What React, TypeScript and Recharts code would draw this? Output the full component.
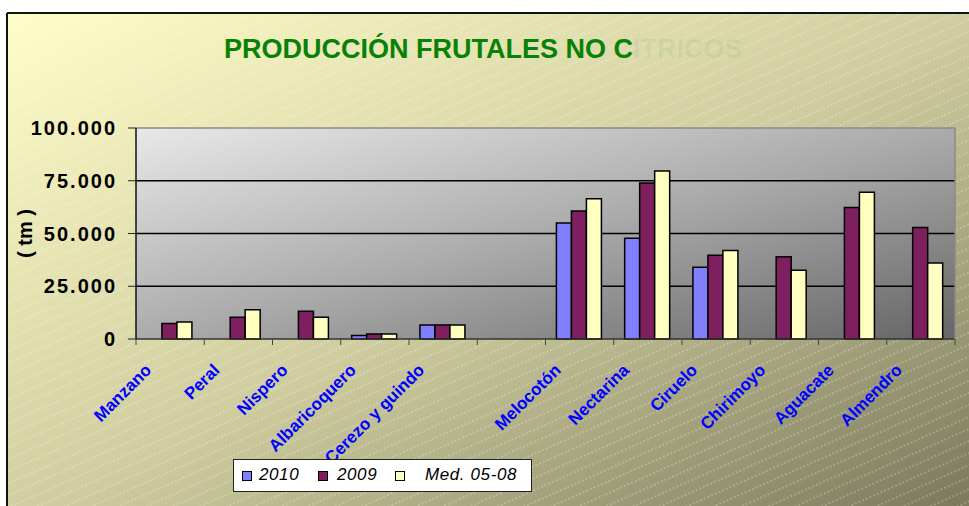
import React from "react";
import {
  BarChart,
  Bar,
  XAxis,
  YAxis,
  CartesianGrid,
  ReferenceLine,
} from "recharts";

const categories = [
  "Manzano",
  "Peral",
  "Nispero",
  "Albaricoquero",
  "Cerezo y guindo",
  "",
  "Melocotón",
  "Nectarina",
  "Ciruelo",
  "Chirimoyo",
  "Aguacate",
  "Almendro",
];
const v2010 = [null, null, null, 1600, 6600, null, 55000, 47700, 34000, null, null, null];
const v2009 = [7400, 10300, 13100, 2400, 6600, null, 60700, 73900, 39700, 39000, 62300, 52800];
const vMed = [8000, 13900, 10300, 2400, 6600, null, 66500, 79600, 42000, 32600, 69500, 36000];
const yTicks = [0, 25000, 50000, 75000, 100000];

const seriesNames = ["2010", "2009", "Med. 05-08"];
const seriesColors = ["#8080ff", "#7f1f5f", "#ffffc0"];

const data = categories.map((name, i) => ({
  name,
  y2010: v2010[i],
  y2009: v2009[i],
  med: vMed[i],
}));

const FONT = '"Liberation Sans", Arial, sans-serif';

const fmt = (v: number) => String(v).replace(/\B(?=(\d{3})+(?!\d))/g, ".");

const YTick = ({ x, y, payload }: any) => (
  <text
    x={x}
    y={y}
    dy="0.36em"
    textAnchor="end"
    fill="#000"
    fontFamily={FONT}
    fontWeight={700}
    fontSize={20}
    letterSpacing={2}
  >
    {fmt(payload.value)}
  </text>
);

const XTick = ({ x, y, payload, index }: any) => {
  const half = payload?.offset ?? 34;
  const isLast = index === categories.length - 1;
  const ax = x - 22;
  const ay = y + 28;
  return (
    <g>
      <line x1={x - half} y1={y} x2={x - half} y2={y + 6} stroke="#444" />
      {isLast && <line x1={x + half} y1={y} x2={x + half} y2={y + 6} stroke="#444" />}
      <text
        x={ax}
        y={ay}
        dy="0.35em"
        transform={`rotate(-45, ${ax}, ${ay})`}
        textAnchor="end"
        fill="#0000ff"
        fontFamily={FONT}
        fontWeight={700}
        fontSize={17}
      >
        {payload.value}
      </text>
    </g>
  );
};

const AxisTitle = ({ viewBox }: any) => {
  const cx = viewBox.x + 27;
  const cy = viewBox.y + viewBox.height / 2;
  return (
    <text
      x={cx}
      y={cy}
      transform={`rotate(-90, ${cx}, ${cy})`}
      textAnchor="middle"
      dominantBaseline="middle"
      fontFamily={FONT}
      fontWeight={700}
      fontSize={20}
      fill="#000"
    >
      ( tm )
    </text>
  );
};

const legendPos = [
  { sw: 8, tx: 25 },
  { sw: 84, tx: 103 },
  { sw: 161, tx: 191 },
];

export default function App() {
  return (
    <div style={{ position: "absolute", left: 0, top: 0, width: 969, height: 506, overflow: "hidden" }}>
      <svg width={969} height={506} style={{ position: "absolute", left: 0, top: 0 }}>
        <defs>
          <linearGradient id="outerGrad" x1="0" y1="0" x2="1" y2="1">
            <stop offset="0" stopColor="#fffdc8" />
            <stop offset="0.5" stopColor="#cfcd9f" />
            <stop offset="1" stopColor="#747357" />
          </linearGradient>
          <linearGradient id="plotGrad" x1="0" y1="0" x2="1" y2="1">
            <stop offset="0" stopColor="#e8e8e8" />
            <stop offset="0.5" stopColor="#ababab" />
            <stop offset="1" stopColor="#666666" />
          </linearGradient>
          <pattern id="stripes" width="8" height="11" patternUnits="userSpaceOnUse" patternTransform="rotate(-24)">
            <line x1="0" y1="5" x2="8" y2="5" stroke="#ffffff" strokeWidth="1" strokeDasharray="2 2" strokeOpacity="0.45" />
          </pattern>
        </defs>
        <rect x={7} y={13} width={980} height={520} fill="url(#outerGrad)" />
        <rect x={7} y={13} width={980} height={520} fill="url(#stripes)" />
        <line x1={7} y1={13} x2={969} y2={13} stroke="#111" strokeWidth={2} />
        <line x1={7} y1={13} x2={7} y2={506} stroke="#111" strokeWidth={2} />
        <text x={224} y={58} fontFamily={FONT} fontWeight={700} fontSize={27} fill="#078207">
          PRODUCCIÓN FRUTALES NO C
          <tspan fillOpacity={0.07}>ÍTRICOS</tspan>
        </text>
      </svg>

      <div style={{ position: "absolute", left: 0, top: 0 }}>
        <BarChart
          width={969}
          height={506}
          data={data}
          margin={{ top: 128, right: 0, bottom: 0, left: 0 }}
          barCategoryGap="16%"
          barGap={0}
        >
          <CartesianGrid
            vertical={false}
            stroke="#000"
            strokeWidth={1.3}
            fill="url(#plotGrad)"
            fillOpacity={1}
            horizontalValues={[25000, 50000, 75000]}
          />
          <XAxis
            dataKey="name"
            height={167}
            interval={0}
            tickLine={false}
            tickSize={0}
            tickMargin={0}
            axisLine={{ stroke: "#333", strokeWidth: 1.5 }}
            tick={<XTick />}
          />
          <YAxis
            width={136}
            domain={[0, 100000]}
            ticks={yTicks}
            interval={0}
            tickSize={8}
            tickMargin={11}
            tickLine={{ stroke: "#222" }}
            axisLine={{ stroke: "#111", strokeWidth: 1.5 }}
            tick={<YTick />}
            label={{ content: <AxisTitle /> }}
          />
          <YAxis
            yAxisId="r"
            orientation="right"
            width={14}
            tick={false}
            tickLine={false}
            axisLine={{ stroke: "#8a8a8a", strokeWidth: 1.5 }}
          />
          <ReferenceLine y={100000} stroke="#8a8a8a" strokeWidth={1.5} />
          <Bar dataKey="y2010" fill={seriesColors[0]} stroke="#000" strokeWidth={1.5} isAnimationActive={false} />
          <Bar dataKey="y2009" fill={seriesColors[1]} stroke="#000" strokeWidth={1.5} isAnimationActive={false} />
          <Bar dataKey="med" fill={seriesColors[2]} stroke="#000" strokeWidth={1.5} isAnimationActive={false} />
        </BarChart>
      </div>

      {/* Legend */}
      <div
        style={{
          position: "absolute",
          left: 233,
          top: 459,
          width: 297,
          height: 31,
          background: "#fff",
          border: "1px solid #222",
          fontFamily: FONT,
          fontStyle: "italic",
          fontSize: 17,
          color: "#000",
        }}
      >
        {seriesNames.map((n, i) => (
          <React.Fragment key={n}>
            <div
              style={{
                position: "absolute",
                left: legendPos[i].sw,
                top: 11,
                width: 8,
                height: 8,
                background: seriesColors[i],
                border: "1px solid #000",
              }}
            />
            <div style={{ position: "absolute", left: legendPos[i].tx, top: 5, lineHeight: "20px", letterSpacing: 0.6 }}>
              {n}
            </div>
          </React.Fragment>
        ))}
      </div>
    </div>
  );
}
